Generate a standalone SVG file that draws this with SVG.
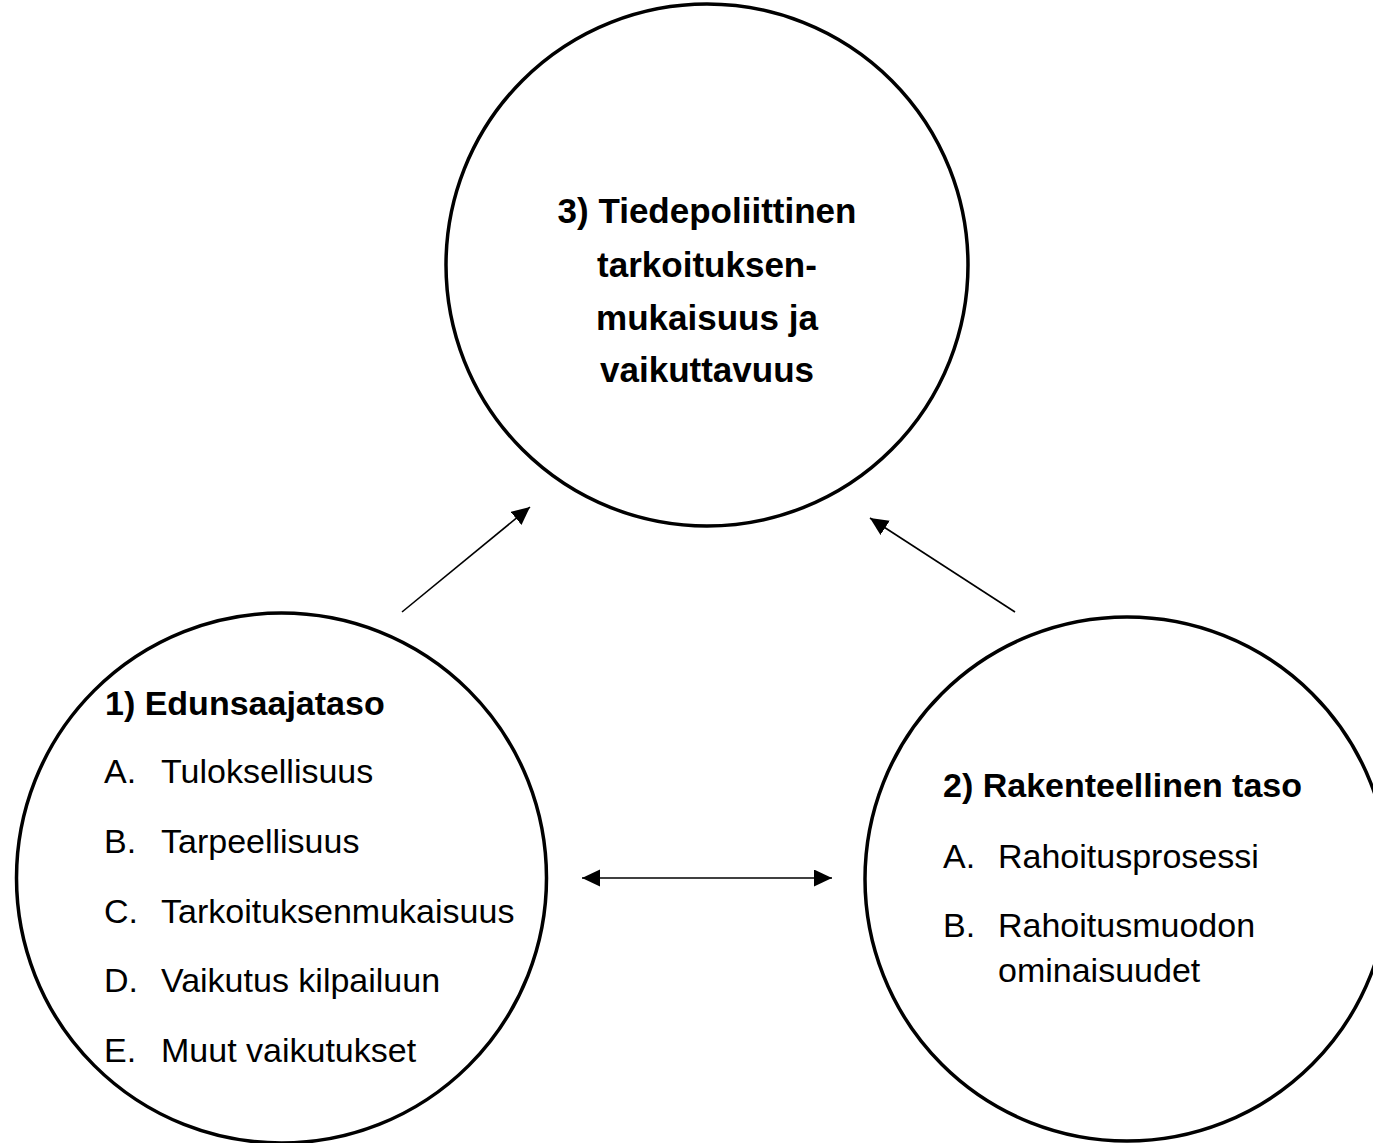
<svg xmlns="http://www.w3.org/2000/svg" width="1373" height="1143" viewBox="0 0 1373 1143">
<style>
.node{fill:#fff;stroke:#000;stroke-width:3.5}
.b{font-family:"Liberation Sans",Arial,sans-serif;font-size:34px;font-weight:bold;fill:#000}
.t{font-size:35px}
.r{font-family:"Liberation Sans",Arial,sans-serif;font-size:34px;fill:#000}
.c{stroke:#000;stroke-width:1.6;fill:none}
</style>
<defs>
<marker id="ah" markerUnits="userSpaceOnUse" markerWidth="20" markerHeight="18" refX="18" refY="8.5" orient="auto-start-reverse">
<path d="M0,0 L18,8.5 L0,17 z" fill="#000"/>
</marker>
</defs>
<rect width="1373" height="1143" fill="#fff"/>
<g id="node3">
<circle class="node" cx="707" cy="265" r="261"/>
<text class="b t" text-anchor="middle" x="707" y="223">3) Tiedepoliittinen</text>
<text class="b t" text-anchor="middle" x="707" y="277">tarkoituksen-</text>
<text class="b t" text-anchor="middle" x="707" y="330">mukaisuus ja</text>
<text class="b t" text-anchor="middle" x="707" y="382">vaikuttavuus</text>
</g>
<g id="node1">
<circle class="node" cx="281.5" cy="878" r="265"/>
<text class="b" x="105" y="715">1) Edunsaajataso</text>
<text class="r" x="104" y="783">A.</text><text class="r" x="161" y="783">Tuloksellisuus</text>
<text class="r" x="104" y="853">B.</text><text class="r" x="161" y="853">Tarpeellisuus</text>
<text class="r" x="104" y="923">C.</text><text class="r" x="161" y="923">Tarkoituksenmukaisuus</text>
<text class="r" x="104" y="992">D.</text><text class="r" x="161" y="992">Vaikutus kilpailuun</text>
<text class="r" x="104" y="1062">E.</text><text class="r" x="161" y="1062">Muut vaikutukset</text>
</g>
<g id="node2">
<circle class="node" cx="1127" cy="879" r="262"/>
<text class="b" x="943" y="797">2) Rakenteellinen taso</text>
<text class="r" x="943" y="868">A.</text><text class="r" x="998" y="868">Rahoitusprosessi</text>
<text class="r" x="943" y="937">B.</text><text class="r" x="998" y="937">Rahoitusmuodon</text>
<text class="r" x="998" y="982">ominaisuudet</text>
</g>
<g id="connectors">
<line class="c" x1="402" y1="612" x2="530" y2="507" marker-end="url(#ah)"/>
<line class="c" x1="1015" y1="612" x2="870" y2="518" marker-end="url(#ah)"/>
<line class="c" x1="582" y1="878" x2="832" y2="878" stroke-width="2.2" marker-start="url(#ah)" marker-end="url(#ah)"/>
</g>
</svg>
